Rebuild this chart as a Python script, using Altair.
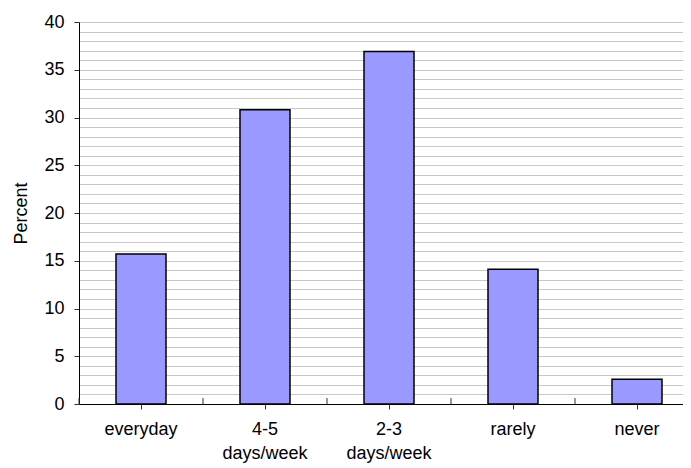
import altair as alt
import pandas as pd

categories = ["everyday", "4-5 days/week", "2-3 days/week", "rarely", "never"]
percents = [15.7, 30.8, 36.9, 14.1, 2.6]
y_ticks = list(range(0, 41))

df = pd.DataFrame({"cat": categories, "pct": percents})

FONT = "Liberation Sans"
FS = 18

x_enc = alt.X(
    "cat:N",
    sort=categories,
    scale=alt.Scale(range=[0, 620], paddingInner=0, paddingOuter=0),
    axis=alt.Axis(
        title=None,
        labelAngle=0,
        labelExpr="split(datum.label, ' ')",
        labelLineHeight=24,
        labelFont=FONT,
        labelFontSize=FS,
        labelColor="black",
        labelPadding=11,
        tickSize=5,
        tickColor="#333333",
        domainColor="black",
        domainWidth=1,
        grid=False,
    ),
)

y_enc = alt.Y(
    "pct:Q",
    scale=alt.Scale(domain=[0, 40], nice=False, zero=True),
    axis=alt.Axis(
        values=y_ticks,
        title="Percent",
        titleFont=FONT,
        titleFontSize=FS,
        titleFontWeight="normal",
        titleColor="black",
        titlePadding=13,
        labelExpr="datum.value % 5 === 0 ? datum.label : ''",
        labelOverlap=False,
        labelFont=FONT,
        labelFontSize=FS,
        labelColor="black",
        labelPadding=10,
        tickSize=5,
        tickColor="#333333",
        tickOpacity={"condition": {"test": "datum.value % 5 === 0", "value": 1}, "value": 0},
        grid=True,
        gridColor="#C8C8C8",
        gridWidth=1,
        domainColor="black",
        domainWidth=1,
    ),
)

bars = alt.Chart(df).mark_bar(
    width=50, fill="#9999FF", stroke="black", strokeWidth=1.5
).encode(x=x_enc, y=y_enc)

sep_ticks = alt.Chart(df).mark_rule(color="#333333", strokeWidth=1).encode(
    x=alt.X("cat:N", sort=categories, bandPosition=0),
    y=alt.value(376),
    y2=alt.value(382),
)

chart = (
    alt.layer(bars, sep_ticks)
    .properties(
        width=604,
        height=382,
        autosize=alt.AutoSizeParams(type="none"),
        padding={"left": 71, "top": 14, "right": 0, "bottom": 66},
    )
    .configure_view(stroke=None)
    .configure(background="white")
)

chart.save("out.html", embed_options={"renderer": "svg", "actions": False})
